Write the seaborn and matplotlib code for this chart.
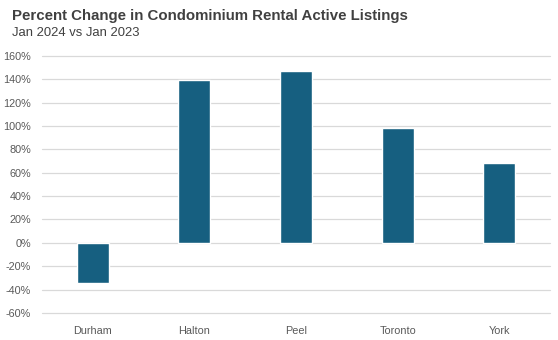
import matplotlib
matplotlib.use("Agg")
import matplotlib.pyplot as plt
import seaborn as sns
import pandas as pd
from matplotlib.ticker import FuncFormatter, MultipleLocator

regions = ["Durham", "Halton", "Peel", "Toronto", "York"]
pct_change = [-34, 139, 147, 98, 68]

df = pd.DataFrame({"region": regions, "pct": pct_change})

sns.set_theme(style="white")
plt.rcParams["font.family"] = ["Liberation Sans", "DejaVu Sans"]

fig = plt.figure(figsize=(5.58, 3.40), dpi=100)
ax = fig.add_axes([0.0753, 0.0794, 0.9104, 0.7566])

sns.barplot(data=df, x="region", y="pct", color="#165F80", saturation=1,
            width=0.315, ax=ax, zorder=3)

ax.set_ylim(-60, 160)
ax.set_xlim(-0.5, len(regions) - 0.5)
ax.yaxis.set_major_locator(MultipleLocator(20))
ax.yaxis.set_major_formatter(FuncFormatter(lambda v, _: f"{v:.0f}%"))
ax.grid(axis="y", color="#D9D9D9", linewidth=0.9, zorder=0)
for gl in ax.get_ygridlines():
    gl.set_clip_on(False)
ax.set_axisbelow(True)
for s in ax.spines.values():
    s.set_visible(False)
ax.set_xlabel("")
ax.set_ylabel("")
ax.tick_params(axis="y", labelsize=7.8, labelcolor="#595959", length=0, pad=8)
ax.tick_params(axis="x", labelsize=7.8, labelcolor="#595959", length=0, pad=9)

fig.text(0.0215, 0.952, "Percent Change in Condominium Rental Active Listings",
         fontsize=10.8, fontweight="bold", color="#404040", va="center", ha="left")
fig.text(0.0215, 0.903, "Jan 2024 vs Jan 2023",
         fontsize=9.4, color="#404040", va="center", ha="left")

fig.savefig("out.png", dpi=100)
